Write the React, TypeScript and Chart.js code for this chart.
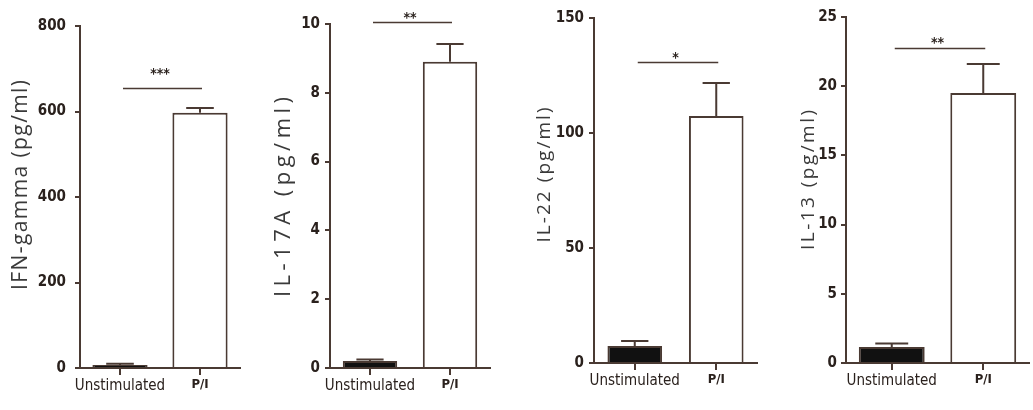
import React, { useEffect, useRef } from "react";
import { Chart, registerables } from "chart.js";

Chart.register(...registerables);

// ---------- data ----------
const categories = ["Unstimulated", "P/I"];

const ifnTitle = "IFN-gamma (pg/ml)";
const ifnValues = [7, 597];
const ifnErrors = [3, 11];
const ifnTicks = [0, 200, 400, 600, 800];
const ifnSig = "***";
const ifnSigLevel = 655;

const il17aTitle = "IL-17A (pg/ml)";
const il17aValues = [0.2, 8.9];
const il17aErrors = [0.05, 0.52];
const il17aTicks = [0, 2, 4, 6, 8, 10];
const il17aSig = "**";
const il17aSigLevel = 10.06;

const il22Title = "IL-22 (pg/ml)";
const il22Values = [7.4, 107.4];
const il22Errors = [2.2, 14.3];
const il22Ticks = [0, 50, 100, 150];
const il22Sig = "*";
const il22SigLevel = 130.9;

const il13Title = "IL-13 (pg/ml)";
const il13Values = [1.15, 19.5];
const il13Errors = [0.25, 2.1];
const il13Ticks = [0, 5, 10, 15, 20, 25];
const il13Sig = "**";
const il13SigLevel = 22.76;

// ---------- styles ----------
const AXIS = "#4a3a33";
const TEXT = "#2a211d";
const TITLE = "#3a3a3a";
const NARROW = '"Liberation Sans Narrow", "DejaVu Sans Condensed", "Arial Narrow", sans-serif';
const H = 410;

type PanelCfg = {
  title: string;
  values: number[];
  errors: number[];
  ticks: number[];
  sig: string;
  sigLevel: number;
  left: number;
  width: number;
  axisX: number;
  xEnd: number;
  yTop: number;
  yZero: number;
  titleX: number;
  titleY: number;
  titleLen: number;
  titleSize: number;
  starGap: number;
  barPct: number;
  tickPad: number;
};

const panels: PanelCfg[] = [
  {
    title: ifnTitle, values: ifnValues, errors: ifnErrors, ticks: ifnTicks, sig: ifnSig, sigLevel: ifnSigLevel,
    left: 0, width: 252, axisX: 80, xEnd: 240, yTop: 26, yZero: 368,
    titleX: 21, titleY: 185, titleLen: 210, titleSize: 21, starGap: 19, barPct: 0.69, tickPad: 9,
  },
  {
    title: il17aTitle, values: il17aValues, errors: il17aErrors, ticks: il17aTicks, sig: il17aSig, sigLevel: il17aSigLevel,
    left: 262, width: 242, axisX: 330, xEnd: 490, yTop: 24, yZero: 368,
    titleX: 284, titleY: 197, titleLen: 200, titleSize: 22, starGap: 9, barPct: 0.68, tickPad: 5,
  },
  {
    title: il22Title, values: il22Values, errors: il22Errors, ticks: il22Ticks, sig: il22Sig, sigLevel: il22SigLevel,
    left: 520, width: 260, axisX: 594, xEnd: 757, yTop: 18, yZero: 363,
    titleX: 545, titleY: 175, titleLen: 135, titleSize: 19, starGap: 9, barPct: 0.67, tickPad: 5,
  },
  {
    title: il13Title, values: il13Values, errors: il13Errors, ticks: il13Ticks, sig: il13Sig, sigLevel: il13SigLevel,
    left: 785, width: 248, axisX: 846, xEnd: 1029, yTop: 17, yZero: 363,
    titleX: 809, titleY: 180, titleLen: 140, titleSize: 19, starGap: 10, barPct: 0.72, tickPad: 4,
  },
];

function Panel({ cfg }: { cfg: PanelCfg }) {
  const ref = useRef<HTMLCanvasElement | null>(null);

  useEffect(() => {
    if (!ref.current) return;
    const tickMax = cfg.ticks[cfg.ticks.length - 1];
    const step = cfg.ticks[1] - cfg.ticks[0];

    const extras = {
      id: "extras",
      afterDatasetsDraw(chart: any) {
        const ctx = chart.ctx;
        const y = chart.scales.y;
        const meta = chart.getDatasetMeta(0);
        ctx.save();
        ctx.strokeStyle = AXIS;
        ctx.lineWidth = 2;
        cfg.values.forEach((v, i) => {
          const el = meta.data[i];
          const x = el.x;
          const yb = y.getPixelForValue(v);
          const ye = y.getPixelForValue(v + cfg.errors[i]);
          const cap = el.width * 0.5;
          ctx.beginPath();
          ctx.moveTo(x, yb);
          ctx.lineTo(x, ye);
          ctx.moveTo(x - cap / 2, ye);
          ctx.lineTo(x + cap / 2, ye);
          ctx.stroke();
        });
        ctx.restore();
      },
      afterDraw(chart: any) {
        const ctx = chart.ctx;
        const y = chart.scales.y;
        const meta = chart.getDatasetMeta(0);
        const x1 = meta.data[0].x;
        const x2 = meta.data[1].x;
        const ys = Math.round(y.getPixelForValue(cfg.sigLevel)) + 0.5;
        ctx.save();
        ctx.strokeStyle = AXIS;
        ctx.lineWidth = 1.5;
        ctx.beginPath();
        ctx.moveTo(x1 + 3, ys);
        ctx.lineTo(x2 + 2, ys);
        ctx.stroke();
        ctx.fillStyle = TEXT;
        ctx.font = `bold 14px ${NARROW}`;
        ctx.textAlign = "center";
        ctx.textBaseline = "alphabetic";
        ctx.fillText(cfg.sig, (x1 + x2) / 2, ys - cfg.starGap + 8);
        // y-axis title
        ctx.translate(cfg.titleX - cfg.left, cfg.titleY);
        ctx.rotate(-Math.PI / 2);
        ctx.font = `${cfg.titleSize}px "Open Sans", sans-serif`;
        ctx.fillStyle = TITLE;
        const natural = ctx.measureText(cfg.title).width;
        const sp = Math.max(0, (cfg.titleLen - natural) / (cfg.title.length - 1));
        (ctx as any).letterSpacing = `${sp}px`;
        ctx.textAlign = "center";
        ctx.textBaseline = "middle";
        ctx.fillText(cfg.title, sp / 2, 0);
        ctx.restore();
      },
    };

    const chart = new Chart(ref.current, {
      type: "bar",
      data: {
        labels: categories,
        datasets: [
          {
            data: cfg.values,
            backgroundColor: ["#111111", "#ffffff"],
            borderColor: AXIS,
            borderWidth: 2,
            categoryPercentage: 1,
            barPercentage: cfg.barPct,
          },
        ],
      },
      options: {
        animation: false,
        responsive: false,
        maintainAspectRatio: false,
        devicePixelRatio: 1,
        layout: {
          padding: { top: cfg.yTop, right: cfg.left + cfg.width - cfg.xEnd, bottom: 0, left: 0 },
        },
        plugins: { legend: { display: false }, tooltip: { enabled: false }, title: { display: false } },
        scales: {
          x: {
            offset: true,
            grid: { display: true, drawOnChartArea: false, offset: false, tickLength: 7, color: AXIS, lineWidth: 2 },
            border: { display: true, color: AXIS, width: 2 },
            ticks: {
              autoSkip: false,
              maxRotation: 0,
              minRotation: 0,
              padding: 2,
              color: TEXT,
              font: (c: any) =>
                c.index === 1
                  ? { family: NARROW, size: 13, weight: "bold" }
                  : { family: NARROW, size: 15, weight: "normal" },
            },
            afterFit: (s: any) => {
              s.height = H - cfg.yZero;
              s.paddingLeft = 0;
              s.paddingRight = 0;
            },
          },
          y: {
            min: 0,
            max: tickMax,
            grid: { display: true, drawOnChartArea: false, tickLength: 5, color: AXIS, lineWidth: 2 },
            border: { display: true, color: AXIS, width: 2 },
            ticks: {
              stepSize: step,
              padding: cfg.tickPad,
              color: TEXT,
              font: { family: NARROW, size: 15, weight: "bold" },
            },
            afterFit: (s: any) => {
              s.width = cfg.axisX - cfg.left;
              s.paddingTop = 0;
              s.paddingBottom = 0;
            },
          },
        },
      },
      plugins: [extras],
    } as any);
    return () => chart.destroy();
  }, [cfg]);

  return (
    <canvas
      ref={ref}
      width={cfg.width}
      height={H}
      style={{ position: "absolute", left: cfg.left, top: 0, width: cfg.width, height: H }}
    />
  );
}

export default function App() {
  return (
    <div style={{ position: "fixed", left: 0, top: 0, width: 1033, height: H, background: "#ffffff", overflow: "hidden" }}>
      {panels.map((p, i) => (
        <Panel key={i} cfg={p} />
      ))}
    </div>
  );
}
